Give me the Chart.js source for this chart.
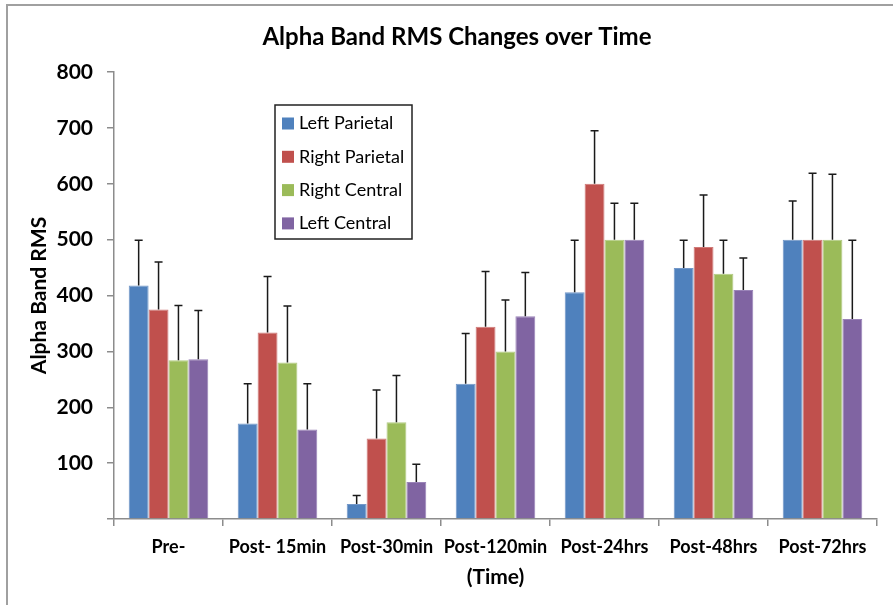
<!DOCTYPE html>
<html>
<head>
<meta charset="utf-8">
<script src="https://cdn.jsdelivr.net/npm/chart.js@4.4.1/dist/chart.umd.min.js"></script>
<style>
  html, body { margin: 0; padding: 0; background: #ffffff; }
  #wrap { position: absolute; left: 0; top: 0; width: 893px; height: 605px; }
</style>
</head>
<body>
<div id="wrap"><canvas id="c" width="893" height="605"></canvas></div>
<script>
// ---- data ----
const categories = ["Pre-", "Post- 15min", "Post-30min", "Post-120min", "Post-24hrs", "Post-48hrs", "Post-72hrs"];
const seriesNames = ["Left Parietal", "Right Parietal", "Right Central", "Left Central"];
const leftParietal   = [418, 171, 27, 242, 406, 449, 500];
const rightParietal  = [375, 334, 144, 344, 600, 487, 500];
const rightCentral   = [284, 280, 173, 300, 500, 439, 500];
const leftCentral    = [286, 160, 66, 363, 500, 410, 358];
const errLeftParietal  = [81, 71, 15, 90, 93, 50, 69];
const errRightParietal = [85, 100, 87, 99, 95, 93, 119];
const errRightCentral  = [98, 101, 84, 92, 65, 60, 117];
const errLeftCentral   = [87, 82, 32, 78, 65, 57, 141];
const yTicks = [0, 100, 200, 300, 400, 500, 600, 700, 800];
const chartTitle = "Alpha Band RMS Changes over Time";
const yTitle = "Alpha Band RMS";
const xTitle = "(Time)";

const colors = ["#4F81BD", "#C0504D", "#9BBB59", "#8064A2"];
const borders = ["#7397c8", "#cf7a78", "#b2cb82", "#9a84b8"];
const values = [leftParietal, rightParietal, rightCentral, leftCentral];
const errors = [errLeftParietal, errRightParietal, errRightCentral, errLeftCentral];

const FONT = "Lato, 'Open Sans', sans-serif";

const datasets = seriesNames.map((n, i) => ({
  label: n,
  data: values[i],
  errors: errors[i],
  backgroundColor: colors[i],
  borderColor: borders[i],
  borderWidth: 1,
  categoryPercentage: 0.73,
  barPercentage: 1.0
}));

const framePlugin = {
  id: 'frame',
  beforeDraw(chart) {
    const ctx = chart.ctx;
    ctx.save();
    ctx.fillStyle = '#ffffff';
    ctx.fillRect(0, 0, chart.width, chart.height);
    ctx.strokeStyle = '#a0a0a0';
    ctx.lineWidth = 2;
    ctx.beginPath();
    ctx.moveTo(7, chart.height);
    ctx.lineTo(7, 5);
    ctx.lineTo(chart.width, 5);
    ctx.stroke();
    ctx.restore();
  }
};

const errorBarPlugin = {
  id: 'errorBars',
  afterDatasetsDraw(chart) {
    const ctx = chart.ctx;
    const y = chart.scales.y;
    ctx.save();
    ctx.strokeStyle = '#1a1a1a';
    ctx.lineWidth = 1.5;
    chart.data.datasets.forEach((ds, di) => {
      const meta = chart.getDatasetMeta(di);
      meta.data.forEach((bar, i) => {
        const v = ds.data[i], e = ds.errors[i];
        const yTop = y.getPixelForValue(v + e);
        const yBase = y.getPixelForValue(v);
        ctx.beginPath();
        ctx.moveTo(bar.x, yBase);
        ctx.lineTo(bar.x, yTop);
        ctx.moveTo(bar.x - 4, yTop);
        ctx.lineTo(bar.x + 4, yTop);
        ctx.stroke();
      });
    });
    ctx.restore();
  }
};

const titleLegendPlugin = {
  id: 'titleLegend',
  afterDraw(chart) {
    const ctx = chart.ctx;
    ctx.save();
    // main title
    ctx.fillStyle = '#000000';
    ctx.font = "bold 24px " + FONT;
    ctx.textAlign = 'center';
    ctx.textBaseline = 'middle';
    ctx.fillText(chartTitle, 457, 37);
    // legend box
    const bx = 275, by = 105, bw = 137, bh = 134;
    ctx.fillStyle = '#ffffff';
    ctx.fillRect(bx, by, bw, bh);
    ctx.strokeStyle = '#222222';
    ctx.lineWidth = 1.5;
    ctx.strokeRect(bx, by, bw, bh);
    ctx.font = "18px " + FONT;
    ctx.textAlign = 'left';
    ctx.textBaseline = 'middle';
    chart.data.datasets.forEach((ds, i) => {
      const cy = 123.5 + i * 33.3;
      ctx.fillStyle = ds.backgroundColor;
      ctx.fillRect(282, cy - 6, 12, 12);
      ctx.fillStyle = '#000000';
      ctx.fillText(ds.label, 299, cy);
    });
    ctx.restore();
  }
};

new Chart(document.getElementById('c'), {
  type: 'bar',
  data: { labels: categories, datasets },
  plugins: [framePlugin, errorBarPlugin, titleLegendPlugin],
  options: {
    responsive: false,
    animation: false,
    layout: { padding: { left: 0, right: 16, top: 72, bottom: 0 } },
    plugins: { legend: { display: false }, title: { display: false }, tooltip: { enabled: false } },
    scales: {
      x: {
        afterFit(scale) { scale.height = 86; },
        grid: { display: true, offset: true, drawOnChartArea: false, drawTicks: true, tickLength: 7, color: '#8c8c8c', lineWidth: 1.5 },
        border: { display: true, color: '#8c8c8c', width: 1.5 },
        ticks: { color: '#000000', font: { family: FONT, size: 18, weight: 'bold' }, padding: 10, maxRotation: 0, autoSkip: false },
        title: { display: true, text: xTitle, color: '#000000', font: { family: FONT, size: 21, weight: 'bold' }, padding: { top: 0, bottom: 15 } }
      },
      y: {
        min: 0, max: 800,
        afterFit(scale) { scale.width = 114; },
        afterBuildTicks(scale) { scale.ticks = yTicks.map(v => ({ value: v })); },
        grid: { display: true, drawOnChartArea: false, drawTicks: true, tickLength: 7, color: '#8c8c8c', lineWidth: 1.5 },
        border: { display: true, color: '#8c8c8c', width: 1.5 },
        ticks: {
          color: '#000000', font: { family: FONT, size: 21, weight: 'bold' }, padding: 14,
          callback: (v) => v === 0 ? '' : String(v)
        },
        title: { display: true, text: yTitle, color: '#000000', font: { family: FONT, size: 21, weight: 'bold' }, padding: { top: 27, bottom: 0 } }
      }
    }
  }
});
</script>
</body>
</html>
